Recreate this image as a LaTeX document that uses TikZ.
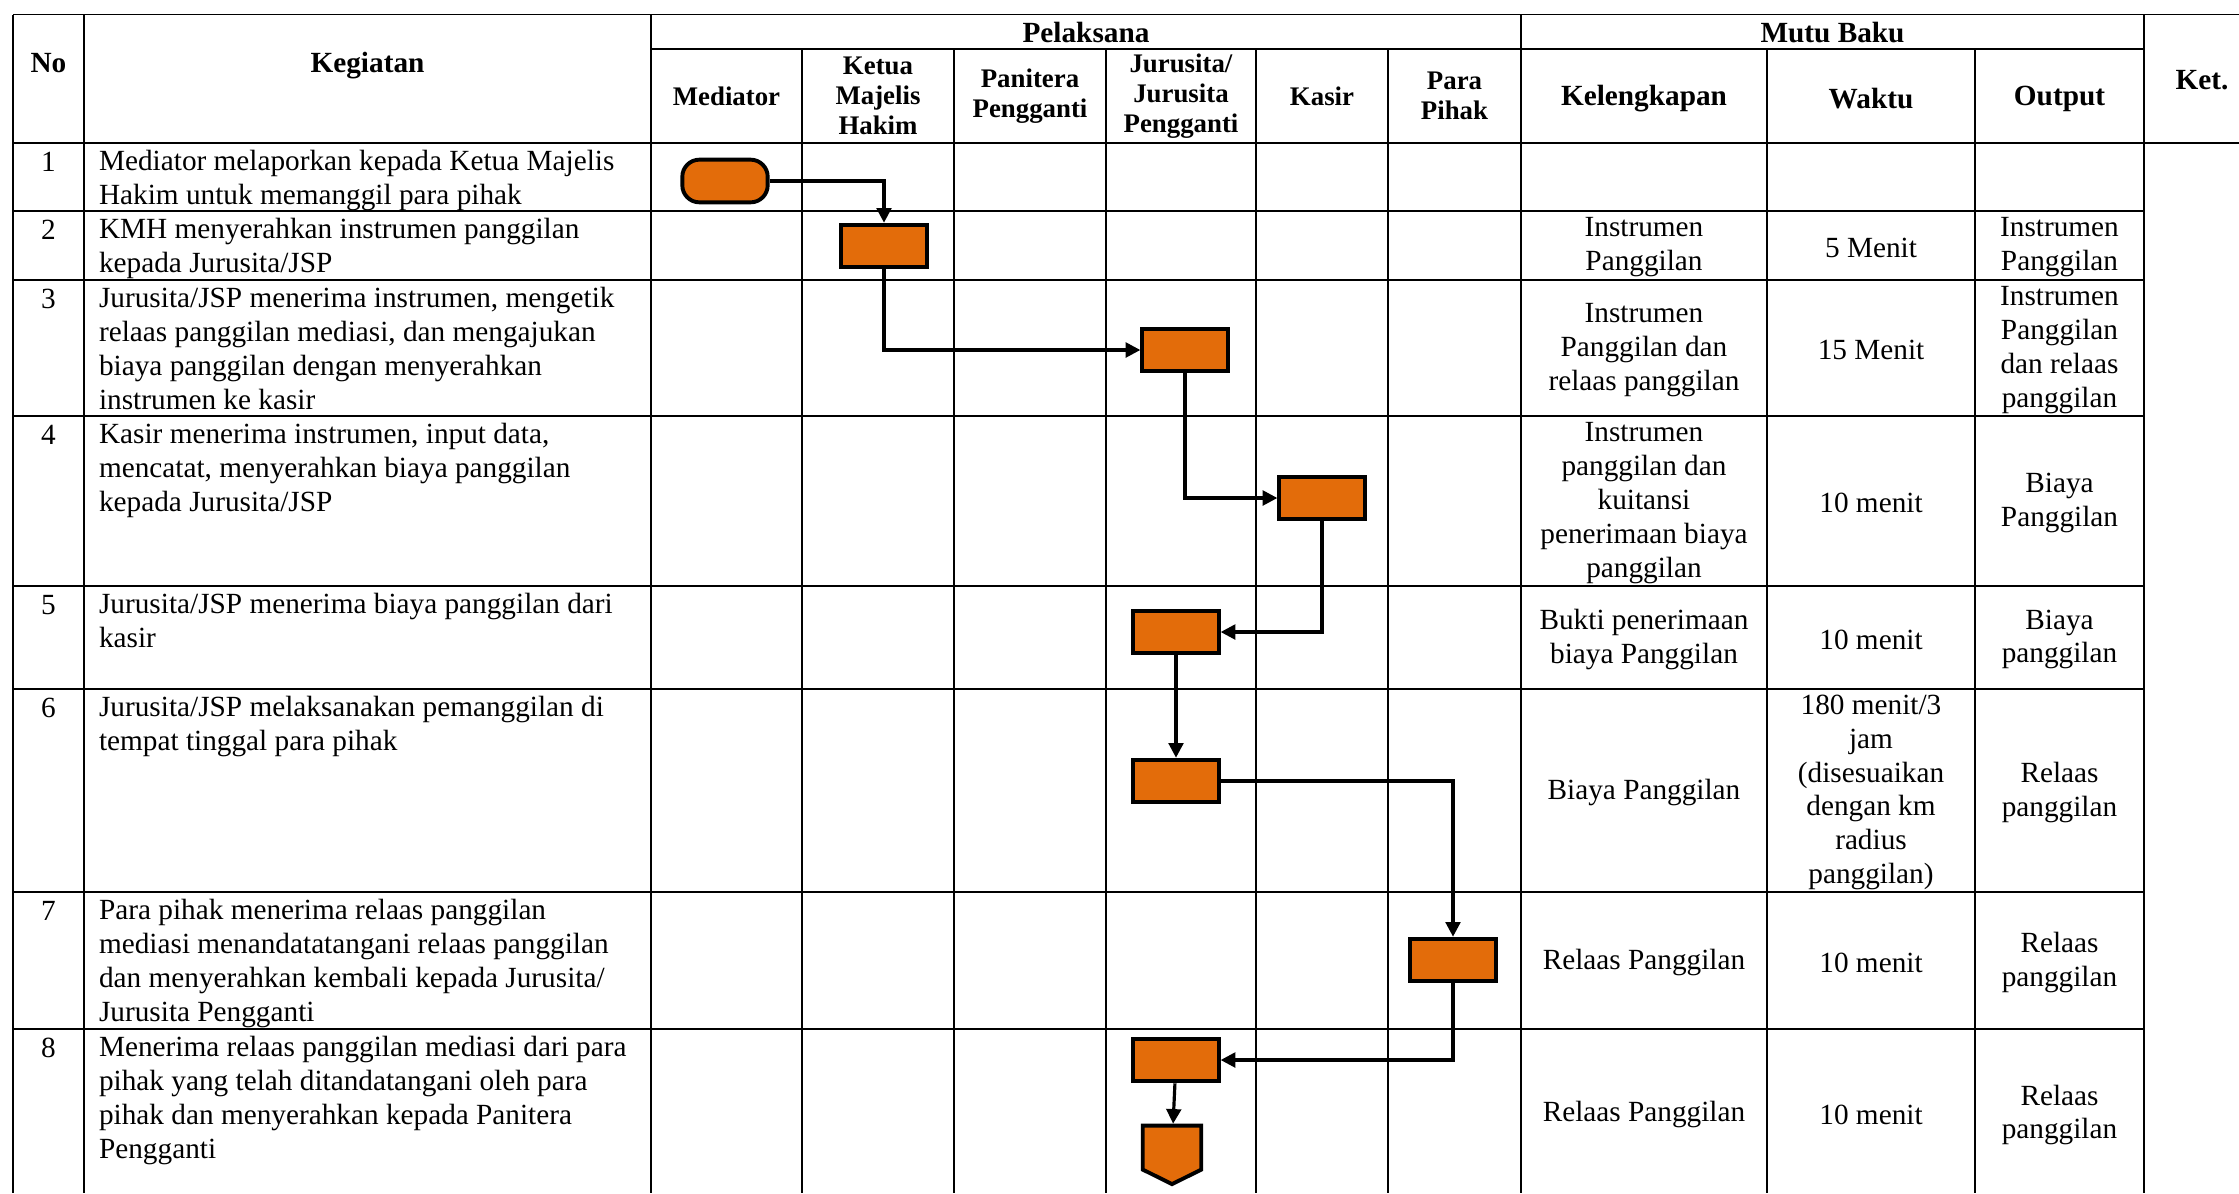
\documentclass[tikz,border=0pt]{standalone}
\usepackage{fontspec}
\setmainfont{Liberation Serif}
\usetikzlibrary{arrows.meta,shapes.symbols}
\definecolor{boxorange}{HTML}{E36C0A}

\begin{document}
\begin{tikzpicture}[x=0.41pt,y=-0.41pt,
  grid/.style={line width=0.5pt},
  head/.style={font=\bfseries\fontsize{12}{13.9}\selectfont,align=center,inner sep=0pt},
  subhead/.style={font=\bfseries\fontsize{11}{12.4}\selectfont,align=center,inner sep=0pt},
  txt/.style={font=\fontsize{12}{13.9}\selectfont,align=left,inner sep=0pt,anchor=north west,execute at begin node=\strut},
  num/.style={font=\fontsize{12}{13.9}\selectfont,inner sep=0pt,anchor=base},
  mutu/.style={font=\fontsize{12}{13.9}\selectfont,align=center,inner sep=0pt,yshift=-0.8pt},
  proc/.style={draw,line width=1.6pt,fill=boxorange,minimum width=35pt,minimum height=17.5pt,inner sep=0pt},
  term/.style={proc,rounded corners=7pt},
  flow/.style={line width=1.3pt,-{Triangle[length=6pt,width=6pt]}}]

\useasboundingbox (0,0) rectangle (2239,1193);

% table
\draw[grid] (13,14.7) -- (2239,14.7);
\draw[grid] (651,49) -- (2144,49);
\draw[grid] (13,143) -- (2239,143);
\foreach \y in {211,280,416,586,689,892,1029}
  \draw[grid] (13,\y) -- (2144,\y);
\foreach \x in {13,84,651,1521,2144}
  \draw[grid] (\x,14.7) -- (\x,1193);
\foreach \x in {802,954,1106,1256,1388,1767,1975}
  \draw[grid] (\x,49) -- (\x,1193);

% header
\node[head,anchor=base] (hno) at (48.5,72) {No};
\node[head,anchor=base] (hkeg) at (367.5,72) {Kegiatan};
\node[head,anchor=base] (hpel) at (1086,42) {Pelaksana};
\node[head,anchor=base] (hmutu) at (1832.5,42) {Mutu Baku};
\node[head,anchor=base] (hket) at (2202,89) {Ket.};
\node[subhead] (hmed) at (726.5,96) {Mediator};
\node[subhead] (hkmh) at (878,96) {Ketua\\Majelis\\Hakim};
\node[subhead] (hpp) at (1030,96) {Panitera\\Pengganti};
\node[subhead] (hjsp) at (1181,96) {Jurusita/\\Jurusita\\Pengganti};
\node[subhead] (hkasir) at (1322,96) {Kasir};
\node[subhead] (hpara) at (1454.5,96) {Para\\Pihak};
\node[head] (hkel) at (1644,99) {Kelengkapan};
\node[head] (hwaktu) at (1871,99) {Waktu};
\node[head] (hout) at (2059.5,99) {Output};

% kegiatan
\foreach \n/\y in {1/143,2/211,3/280,4/416,5/586,6/689,7/892,8/1029}
  \node[num] (no\n) at (48.5,\y+28) {\n};
\node[txt] (keg1) at (98.6,150) {Mediator melaporkan kepada Ketua Majelis\\Hakim untuk memanggil para pihak};
\node[txt] (keg2) at (98.6,218) {KMH menyerahkan instrumen panggilan\\kepada Jurusita/JSP};
\node[txt] (keg3) at (98.6,287) {Jurusita/JSP menerima instrumen, mengetik\\relaas panggilan mediasi, dan mengajukan\\biaya panggilan dengan menyerahkan\\instrumen ke kasir};
\node[txt] (keg4) at (98.6,423) {Kasir menerima instrumen, input data,\\mencatat, menyerahkan biaya panggilan\\kepada Jurusita/JSP};
\node[txt] (keg5) at (98.6,593) {Jurusita/JSP menerima biaya panggilan dari\\kasir};
\node[txt] (keg6) at (98.6,696) {Jurusita/JSP melaksanakan pemanggilan di\\tempat tinggal para pihak};
\node[txt] (keg7) at (98.6,899) {Para pihak menerima relaas panggilan\\mediasi menandatatangani relaas panggilan\\dan menyerahkan kembali kepada Jurusita/\\Jurusita Pengganti};
\node[txt] (keg8) at (98.6,1036) {Menerima relaas panggilan mediasi dari para\\pihak yang telah ditandatangani oleh para\\pihak dan menyerahkan kepada Panitera\\Pengganti};

% mutu baku
\node[mutu] (kel2) at (1644,245.5) {Instrumen\\Panggilan};
\node[mutu] (wak2) at (1871,245.5) {5 Menit};
\node[mutu] (out2) at (2059.5,245.5) {Instrumen\\Panggilan};
\node[mutu] (kel3) at (1644,348) {Instrumen\\Panggilan dan\\relaas panggilan};
\node[mutu] (wak3) at (1871,348) {15 Menit};
\node[mutu] (out3) at (2059.5,348) {Instrumen\\Panggilan\\dan relaas\\panggilan};
\node[mutu] (kel4) at (1644,501) {Instrumen\\panggilan dan\\kuitansi\\penerimaan biaya\\panggilan};
\node[mutu] (wak4) at (1871,501) {10 menit};
\node[mutu] (out4) at (2059.5,501) {Biaya\\Panggilan};
\node[mutu] (kel5) at (1644,637.5) {Bukti penerimaan\\biaya Panggilan};
\node[mutu] (wak5) at (1871,637.5) {10 menit};
\node[mutu] (out5) at (2059.5,637.5) {Biaya\\panggilan};
\node[mutu] (kel6) at (1644,790.5) {Biaya Panggilan};
\node[mutu] (wak6) at (1871,790.5) {180 menit/3\\jam\\(disesuaikan\\dengan km\\radius\\panggilan)};
\node[mutu] (out6) at (2059.5,790.5) {Relaas\\panggilan};
\node[mutu] (kel7) at (1644,960.5) {Relaas Panggilan};
\node[mutu] (wak7) at (1871,960.5) {10 menit};
\node[mutu] (out7) at (2059.5,960.5) {Relaas\\panggilan};
\node[mutu] (kel8) at (1644,1113) {Relaas Panggilan};
\node[mutu] (wak8) at (1871,1113) {10 menit};
\node[mutu] (out8) at (2059.5,1113) {Relaas\\panggilan};

% flow
\node[term] (mulai) at (725,181) {};
\node[proc] (kmh) at (884,246) {};
\node[proc] (jsp1) at (1185,350) {};
\node[proc] (kasir) at (1322,498) {};
\node[proc] (jsp2) at (1176,632) {};
\node[proc] (jsp3) at (1176,781) {};
\node[proc] (para) at (1453,960) {};
\node[proc] (jsp4) at (1176,1060) {};
\node[proc,signal,signal to=south,signal pointer angle=127,minimum width=24pt,minimum height=18pt] (lanjut) at (1172,1147.6) {};

\draw[flow] (mulai.east) -| (kmh.north);
\draw[flow] (kmh.south) |- (jsp1.west);
\draw[flow] (jsp1.south) |- (kasir.west);
\draw[flow] (kasir.south) |- (jsp2.east);
\draw[flow] (jsp2) -- (jsp3);
\draw[flow] (jsp3.east) -| (para.north);
\draw[flow] (para.south) |- (jsp4.east);
\draw[flow] (jsp4) -- (lanjut);
\end{tikzpicture}
\end{document}
